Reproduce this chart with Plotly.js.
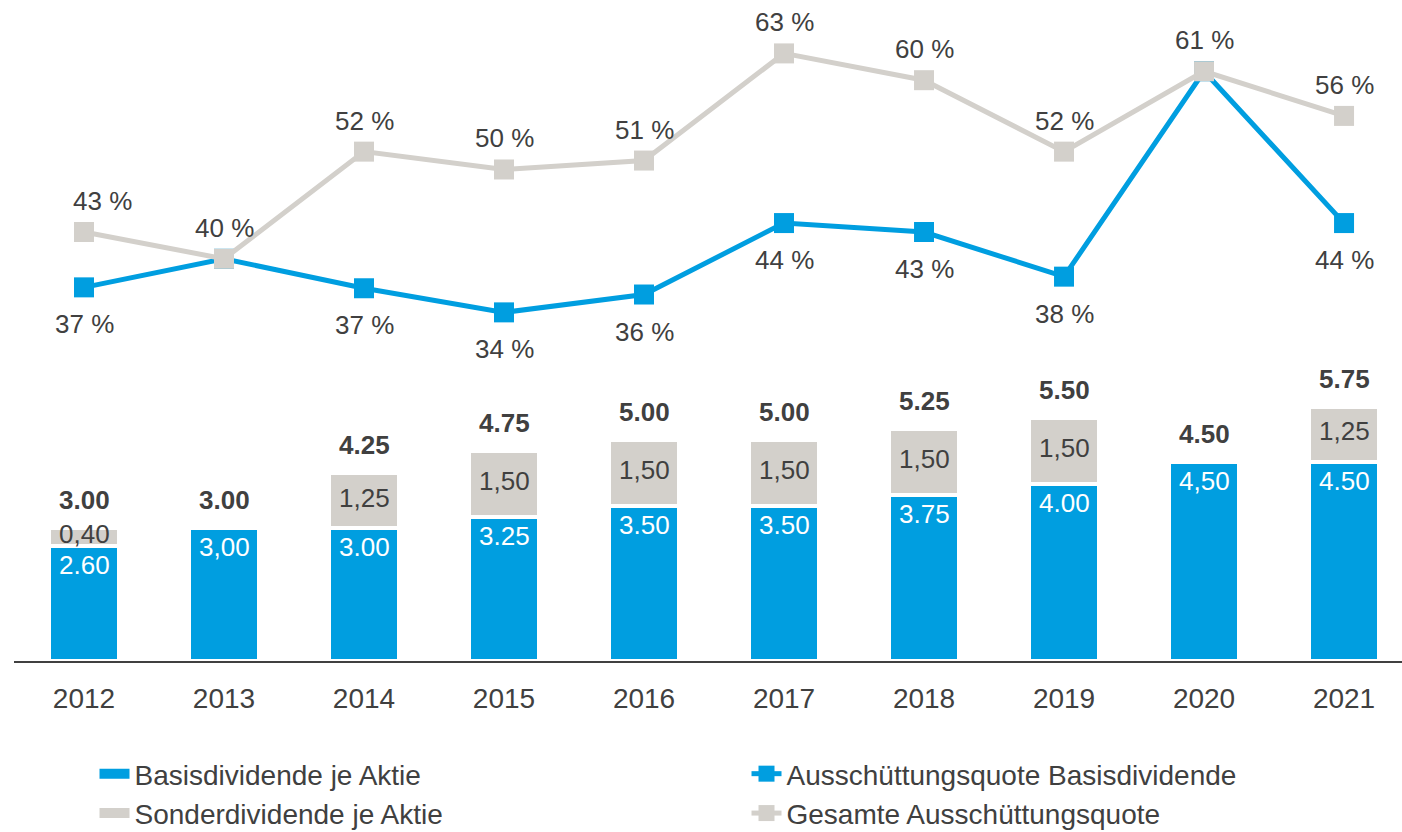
<!DOCTYPE html>
<html>
<head>
<meta charset="utf-8">
<script src="https://cdn.plot.ly/plotly-3.0.1.min.js"></script>
<style>
html,body{margin:0;padding:0;background:#ffffff;}
#chart{width:1402px;height:832px;}
</style>
</head>
<body>
<div id="chart"></div>
<script>
// ---- data ----
const years = ['2012','2013','2014','2015','2016','2017','2018','2019','2020','2021'];
const basisDividend = [2.60, 3.00, 3.00, 3.25, 3.50, 3.50, 3.75, 4.00, 4.50, 4.50];
const specialDividend = [0.40, 0, 1.25, 1.50, 1.50, 1.50, 1.50, 1.50, 0, 1.25];
const totalDividend = [3.00, 3.00, 4.25, 4.75, 5.00, 5.00, 5.25, 5.50, 4.50, 5.75];
const basisLabels = ['2.60','3,00','3.00','3.25','3.50','3.50','3.75','4.00','4,50','4.50'];
const specialLabels = ['0,40','','1,25','1,50','1,50','1,50','1,50','1,50','','1,25'];
const totalLabels = ['3.00','3.00','4.25','4.75','5.00','5.00','5.25','5.50','4.50','5.75'];
const payoutBasis = [36.8, 40.0, 36.7, 34.0, 36.0, 44.0, 43.0, 38.0, 61.0, 44.0];
const payoutTotal = [43.0, 40.0, 52.0, 50.0, 51.0, 63.0, 60.0, 52.0, 61.0, 56.0];
const payoutBasisLabels = ['37 %','','37 %','34 %','36 %','44 %','43 %','38 %','','44 %'];
const payoutTotalLabels = ['43 %','40 %','52 %','50 %','51 %','63 %','60 %','52 %','61 %','56 %'];
const seriesNames = ['Basisdividende je Aktie','Sonderdividende je Aktie','Ausschüttungsquote Basisdividende','Gesamte Ausschüttungsquote'];

// ---- styles ----
const BLUE = '#009ee0';
const GREY = '#d3d0cb';
const TEXT = '#404040';
const FONT = 'Liberation Sans, Arial, Helvetica, sans-serif';
const LABEL_SIZE = 26;

const traces = [
  {
    type: 'bar', x: years, y: basisDividend, name: seriesNames[0],
    marker: {color: BLUE, line: {color: '#ffffff', width: 4}},
    width: 0.5, showlegend: false, hoverinfo: 'skip', yaxis: 'y'
  },
  {
    type: 'bar', x: years, y: specialDividend, name: seriesNames[1],
    marker: {color: GREY, line: {color: '#ffffff', width: 4}},
    width: 0.5, showlegend: false, hoverinfo: 'skip', yaxis: 'y'
  },
  {
    type: 'scatter', mode: 'lines+markers', x: years, y: payoutBasis, name: seriesNames[2],
    line: {color: BLUE, width: 5}, marker: {symbol: 'square', size: 20, color: BLUE},
    yaxis: 'y2', legendrank: 2, hoverinfo: 'skip'
  },
  {
    type: 'scatter', mode: 'lines+markers', x: years, y: payoutTotal, name: seriesNames[3],
    line: {color: GREY, width: 5}, marker: {symbol: 'square', size: 20, color: GREY},
    yaxis: 'y2', legendrank: 4, hoverinfo: 'skip'
  },
  // legend swatches for the bar series
  {
    type: 'scatter', mode: 'lines', x: [null], y: [null], name: seriesNames[0],
    line: {color: BLUE, width: 10}, legendrank: 1, hoverinfo: 'skip', yaxis: 'y'
  },
  {
    type: 'scatter', mode: 'lines', x: [null], y: [null], name: seriesNames[1],
    line: {color: GREY, width: 10}, legendrank: 3, hoverinfo: 'skip', yaxis: 'y'
  }
];

const annotations = [];
years.forEach((yr, i) => {
  // totals above bars
  annotations.push({
    x: i, y: totalDividend[i], xref: 'x', yref: 'y', text: '<b>' + totalLabels[i] + '</b>',
    showarrow: false, yanchor: 'middle', xanchor: 'center', yshift: 28,
    font: {family: FONT, size: LABEL_SIZE, color: TEXT}
  });
  // basis value inside blue bar
  annotations.push({
    x: i, y: basisDividend[i], xref: 'x', yref: 'y', text: basisLabels[i],
    showarrow: false, yanchor: 'middle', xanchor: 'center', yshift: -19,
    font: {family: FONT, size: LABEL_SIZE, color: '#ffffff'}
  });
  // special value in grey segment
  if (specialLabels[i]) {
    annotations.push({
      x: i, y: basisDividend[i] + specialDividend[i] / 2, xref: 'x', yref: 'y', text: specialLabels[i],
      showarrow: false, yanchor: 'middle', xanchor: 'center', yshift: 3,
      font: {family: FONT, size: LABEL_SIZE, color: TEXT}
    });
  }
  // payout labels
  if (payoutTotalLabels[i]) {
    annotations.push({
      x: i, y: payoutTotal[i], xref: 'x', yref: 'y2', text: payoutTotalLabels[i],
      showarrow: false, yanchor: 'middle', xanchor: 'center', yshift: 31, xshift: i === 0 ? 18 : 0,
      font: {family: FONT, size: LABEL_SIZE, color: TEXT}
    });
  }
  if (payoutBasisLabels[i]) {
    annotations.push({
      x: i, y: payoutBasis[i], xref: 'x', yref: 'y2', text: payoutBasisLabels[i],
      showarrow: false, yanchor: 'middle', xanchor: 'center', yshift: -37,
      font: {family: FONT, size: LABEL_SIZE, color: TEXT}
    });
  }
});

const layout = {
  width: 1402, height: 832,
  margin: {l: 14, r: 0, t: 40, b: 171, pad: 0},
  paper_bgcolor: '#ffffff', plot_bgcolor: '#ffffff',
  font: {family: FONT, color: TEXT, size: 25},
  barmode: 'stack',
  showlegend: true,
  xaxis: {
    type: 'category', range: [-0.5, 9.414], fixedrange: true,
    showline: true, linecolor: TEXT, linewidth: 2,
    ticks: '', showgrid: false, zeroline: false,
    tickfont: {family: FONT, size: 28, color: TEXT},
    ticklabelstandoff: 11
  },
  yaxis: {
    range: [0, 14.05], visible: false, showgrid: false, zeroline: false, fixedrange: true
  },
  yaxis2: {
    range: [-5.04, 64.5], overlaying: 'y', side: 'right', visible: false,
    showgrid: false, zeroline: false, fixedrange: true
  },
  legend: {
    orientation: 'h', x: 0.058, xanchor: 'left', xref: 'paper',
    y: 0.0998, yanchor: 'top', yref: 'container',
    font: {family: FONT, size: 28, color: TEXT},
    entrywidth: 607, entrywidthmode: 'pixels',
    traceorder: 'normal', bgcolor: 'rgba(0,0,0,0)'
  },
  annotations: annotations
};

Plotly.newPlot('chart', traces, layout, {displayModeBar: false, staticPlot: true});
</script>
</body>
</html>
